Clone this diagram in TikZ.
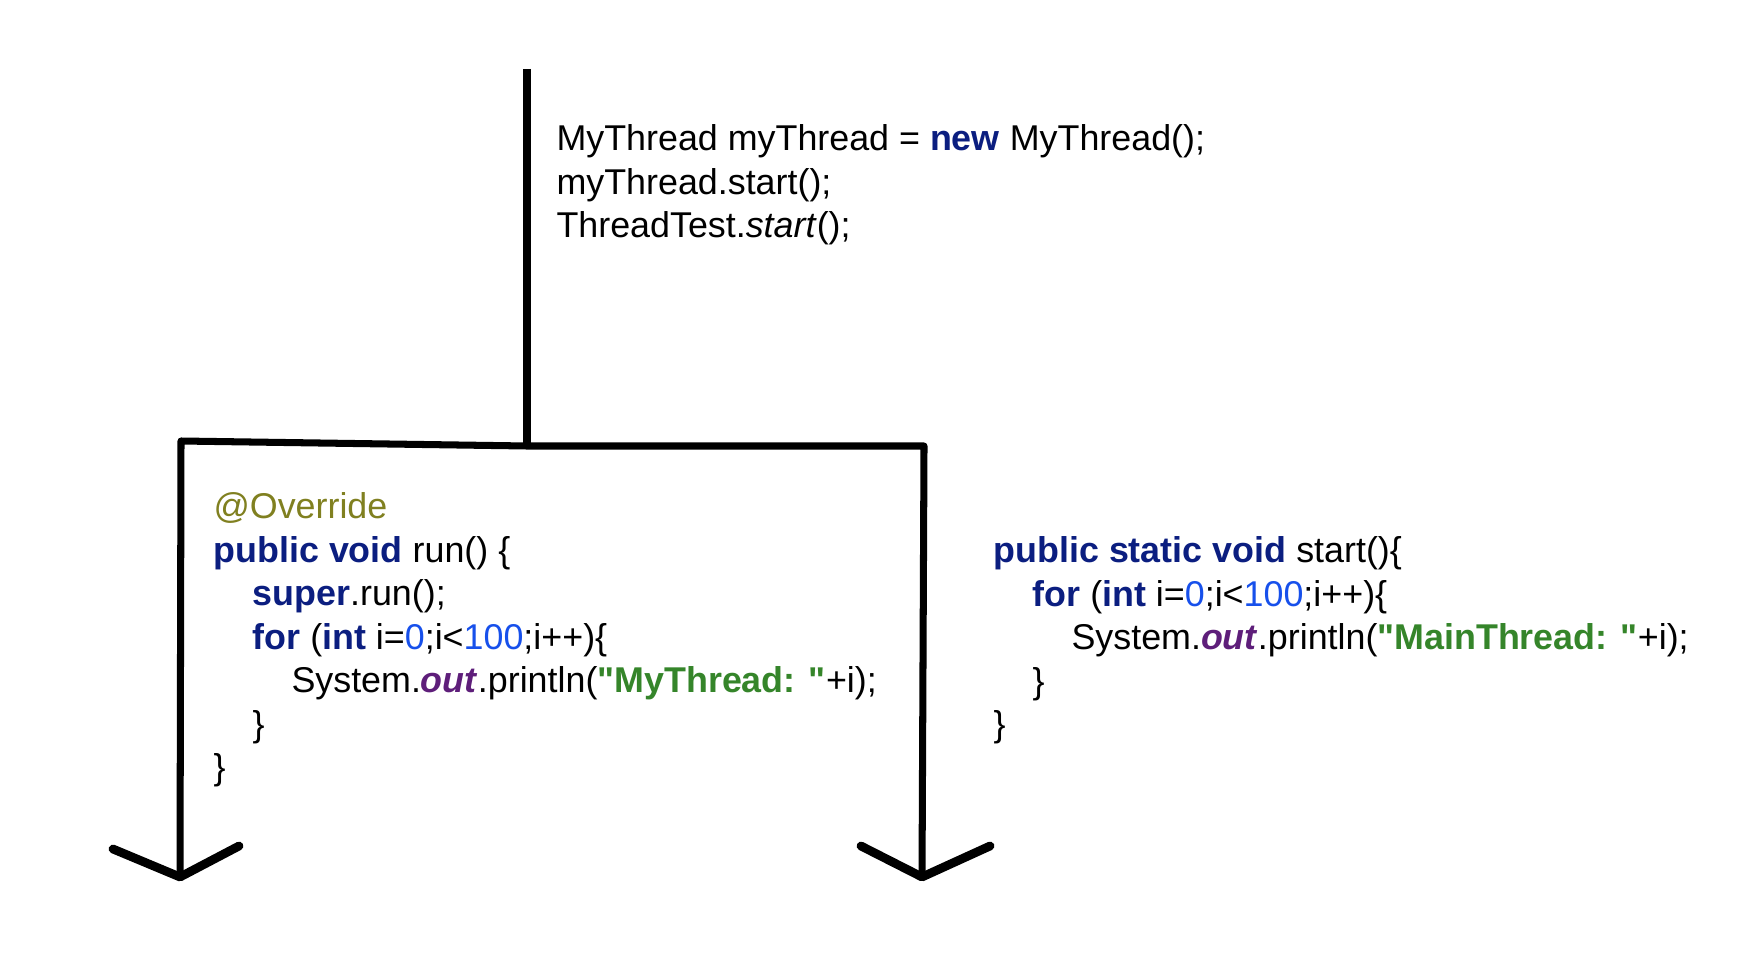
\documentclass[tikz,border=0pt]{standalone}
\usepackage{fontspec}
\setmainfont{Liberation Sans}[Ligatures=TeXOff]
\usepackage{xcolor}
\usetikzlibrary{positioning}
\definecolor{kwblue}{HTML}{0B1E80}
\definecolor{numblue}{HTML}{1750EB}
\definecolor{strgreen}{HTML}{35852A}
\definecolor{fldpurple}{HTML}{5E1E7A}
\definecolor{annolive}{HTML}{808020}
\newcommand{\jkw}[1]{\textcolor{kwblue}{\textbf{#1}}}
\newcommand{\jnum}[1]{\textcolor{numblue}{#1}}
\newcommand{\jstr}[1]{\textcolor{strgreen}{\textbf{"#1"}}}
\newcommand{\jfld}[1]{\textcolor{fldpurple}{\textbf{\textit{#1}}}}
\newcommand{\jann}[1]{\textcolor{annolive}{#1}}
\newcommand{\ind}{\hspace*{3.9mm}}

\begin{document}
\begin{tikzpicture}[x=0.1mm,y=-0.1mm,line width=2pt,line join=round,
  code/.style={anchor=north west,inner sep=0pt,align=left,
    font=\fontsize{10.2}{12.4}\selectfont}]
  \useasboundingbox (0,0) rectangle (1740,958);
  % main thread
  \coordinate (top) at (527,69);
  \coordinate (fork) at (527,446);
  \coordinate (lc) at (181,441);
  \coordinate (rc) at (924,446);
  \coordinate (lend) at (180,877);
  \coordinate (rend) at (922,877);
  \draw (top) -- (fork);
  \draw (lend) -- (lc) -- (fork) -- (rc) -- (rend);
  % arrow heads
  \draw[line width=2.5pt,line cap=round] (lend) ++(-67,-28) -- (lend) -- ++(59,-31);
  \draw[line width=2.5pt,line cap=round] (rend) ++(-61,-31) -- (rend) -- ++(68,-31);
  % code
  \node[code] (mainCode) at (553,121) {MyThread myThread = \jkw{new} MyThread();\\
    myThread.start();\\
    ThreadTest.\textit{start}();};
  \node[code] (runCode) at (210,489) {\jann{@Override}\\
    \jkw{public void} run() \{\\
    \ind\jkw{super}.run();\\
    \ind\jkw{for} (\jkw{int} i=\jnum{0};i<\jnum{100};i++)\{\\
    \ind\ind System.\jfld{out}.println(\jstr{MyThread: }+i);\\
    \ind\}\\
    \}};
  \node[code] (startCode) at (990,533) {\jkw{public static void} start()\{\\
    \ind\jkw{for} (\jkw{int} i=\jnum{0};i<\jnum{100};i++)\{\\
    \ind\ind System.\jfld{out}.println(\jstr{MainThread: }+i);\\
    \ind\}\\
    \}};
\end{tikzpicture}
\end{document}
